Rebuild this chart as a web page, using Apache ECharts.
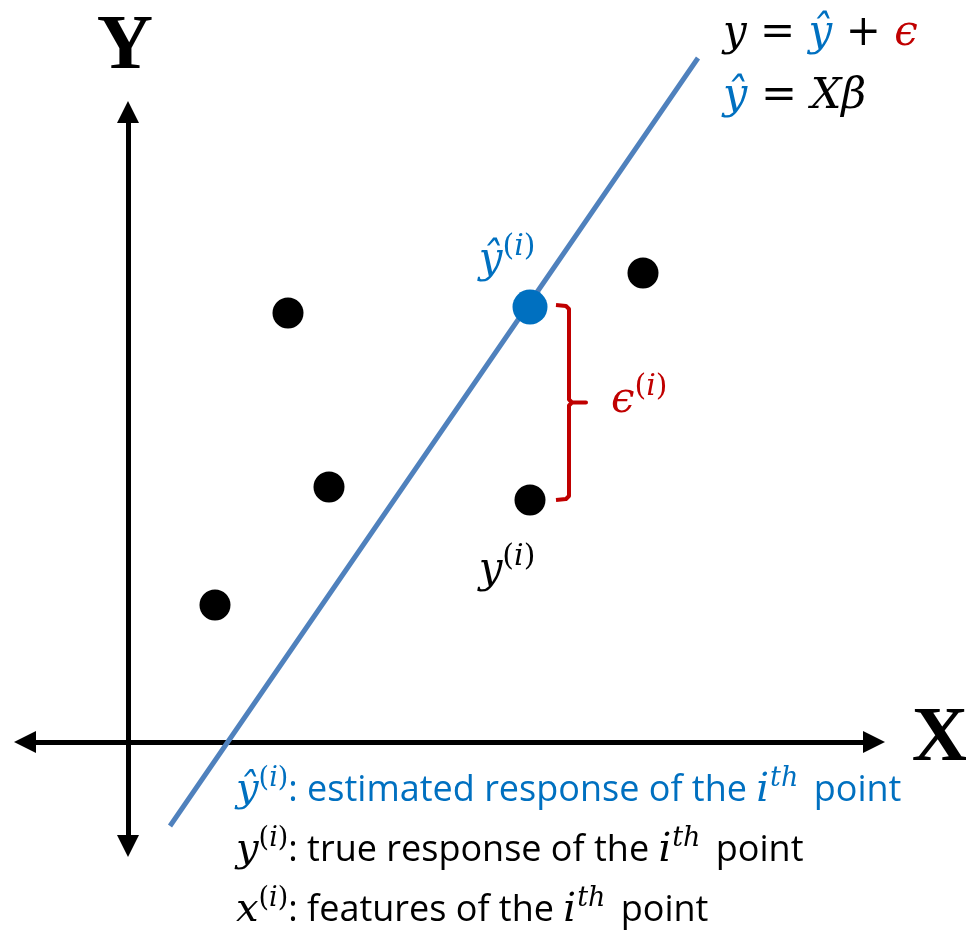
<!DOCTYPE html>
<html>
<head>
<meta charset="utf-8">
<script src="https://cdn.jsdelivr.net/npm/echarts@6/dist/echarts.min.js"></script>
<style>
  html, body { margin: 0; padding: 0; background: #ffffff; }
  #chart { width: 966px; height: 932px; }
</style>
</head>
<body>
<div id="chart"></div>
<script>
// Observed sample points (feature x, response y)
const pointX = [0.87, 1.60, 2.01, 4.02, 5.15];
const pointY = [1.37, 4.29, 2.55, 2.42, 4.69];

// Two ends of the fitted regression line
const lineX = [0.42, 5.70];
const lineY = [-0.84, 6.84];

// Highlighted observation i: its feature, fitted response and true response
const obsX = 4.02;
const fittedY = 4.35;
const trueY = 2.42;

// Visible extent of the two axes (origin sits where they cross)
const axisRangeX = [-1.03, 7.46];
const axisRangeY = [-1.04, 6.30];

const BLUE = '#0070C0';
const RED = '#C00000';
const LINE_BLUE = '#4F81BD';
const MATH_FONT = '"DejaVu Serif", "Liberation Serif", serif';
const SANS_FONT = '"Open Sans", "Noto Sans", sans-serif';

const chart = echarts.init(document.getElementById('chart'));

// Rich-text styles: m = math italic, r = upright math, s/p = superscript (italic/upright),
// q = superscript followed by a gap, t = body text
function rich(color, size, supSize, lh, textSize) {
  function st(o) { o.color = o.color || color; o.fill = o.color; return o; }
  return {
    m: st({ fontFamily: MATH_FONT, fontStyle: 'italic', fontSize: size, lineHeight: lh, verticalAlign: 'bottom' }),
    r: st({ fontFamily: MATH_FONT, fontSize: size, lineHeight: lh, verticalAlign: 'bottom' }),
    s: st({ fontFamily: MATH_FONT, fontStyle: 'italic', fontSize: supSize, lineHeight: supSize + 2, verticalAlign: 'top' }),
    q: st({ fontFamily: MATH_FONT, fontStyle: 'italic', fontSize: supSize, lineHeight: supSize + 2, verticalAlign: 'top', padding: [0, 6, 0, 1] }),
    p: st({ fontFamily: MATH_FONT, fontSize: supSize, lineHeight: supSize + 2, verticalAlign: 'top' }),
    t: st({ fontFamily: SANS_FONT, fontSize: textSize || 31, lineHeight: lh, verticalAlign: 'bottom', padding: [0, 0, 2, 0] }),
    mb: st({ fontFamily: MATH_FONT, fontStyle: 'italic', fontSize: size, color: BLUE, lineHeight: lh, verticalAlign: 'bottom' }),
    mr: st({ fontFamily: MATH_FONT, fontStyle: 'italic', fontSize: size, color: RED, lineHeight: lh, verticalAlign: 'bottom' })
  };
}

const scatterData = pointX.map(function (x, i) { return [x, pointY[i]]; });

function pointLabel(color, formatter, position, offset) {
  return {
    show: true, position: position, offset: offset, formatter: formatter,
    color: color, opacity: 1, rich: rich(color, 42, 30, 50)
  };
}

chart.setOption({
  animation: false,
  grid: { left: 25, right: 92, top: 112, bottom: 86 },
  xAxis: {
    type: 'value', min: axisRangeX[0], max: axisRangeX[1],
    axisLine: { onZero: true, symbol: ['triangle', 'triangle'], symbolSize: [22, 22],
      lineStyle: { color: '#000', width: 5 } },
    axisTick: { show: false }, axisLabel: { show: false }, splitLine: { show: false }
  },
  yAxis: {
    type: 'value', min: axisRangeY[0], max: axisRangeY[1],
    axisLine: { show: true, onZero: true, symbol: ['triangle', 'triangle'], symbolSize: [22, 22],
      lineStyle: { color: '#000', width: 5 } },
    axisTick: { show: false }, axisLabel: { show: false }, splitLine: { show: false }
  },
  series: [
    {
      type: 'line', clip: false, symbol: 'none', z: 3,
      data: [[lineX[0], lineY[0]], [lineX[1], lineY[1]]],
      lineStyle: { color: LINE_BLUE, width: 5 }
    },
    {
      type: 'scatter', z: 4, symbolSize: 31,
      itemStyle: { color: '#000', opacity: 1 },
      data: scatterData
    },
    {
      type: 'scatter', z: 5, symbolSize: 35,
      itemStyle: { color: BLUE, opacity: 1 },
      data: [[obsX, fittedY]],
      label: pointLabel(BLUE, '{m|ŷ}{p|(}{s|i}{p|)}', 'left', [28, -50])
    },
    {
      // label for the true response of observation i
      type: 'scatter', z: 5, symbolSize: 0,
      itemStyle: { color: '#000', opacity: 1 },
      data: [[obsX, trueY]],
      label: pointLabel('#000', '{m|y}{p|(}{s|i}{p|)}', 'bottom', [-23, 37])
    },
    {
      // label for the residual, placed halfway between fitted and true response
      type: 'scatter', z: 5, symbolSize: 0,
      itemStyle: { color: RED, opacity: 1 },
      data: [[obsX, (fittedY + trueY) / 2]],
      label: pointLabel(RED, '{m|ϵ}{p|(}{s|i}{p|)}', 'right', [76, -6])
    },
    {
      // residual bracket between fitted and true response
      type: 'custom', z: 4, clip: false,
      data: [[obsX, fittedY, trueY]],
      renderItem: function (params, api) {
        const top = api.coord([api.value(0), api.value(1)]);
        const bot = api.coord([api.value(0), api.value(2)]);
        const xs = top[0] + 26, xv = top[0] + 39;
        const yt = top[1] - 2, yb = bot[1];
        const ym = (yt + yb) / 2;
        return {
          type: 'polyline',
          shape: { points: [[xs, yt], [xv - 3, yt + 1], [xv, yt + 4], [xv, ym - 3], [xv + 3, ym], [xv + 17, ym], [xv + 3, ym], [xv, ym + 3], [xv, yb - 4], [xv - 3, yb - 1], [xs, yb]] },
          style: { stroke: RED, lineWidth: 4, fill: null, lineJoin: 'round' }
        };
      }
    }
  ],
  graphic: [
    { type: 'text', x: 125, y: 48, style: { text: 'Y', font: 'bold 78px "Liberation Serif", serif', fill: '#000', textAlign: 'center', textVerticalAlign: 'middle' } },
    { type: 'text', x: 940, y: 740, style: { text: 'X', font: 'bold 78px "Liberation Serif", serif', fill: '#000', textAlign: 'center', textVerticalAlign: 'middle' } },
    { type: 'text', x: 723, y: 5, style: { text: '{m|y}{r| = }{mb|ŷ}{r| + }{mr|ϵ}', rich: rich('#000', 42, 30, 50) } },
    { type: 'text', x: 723, y: 68, style: { text: '{mb|ŷ}{r| = }{m|Xβ}', rich: rich('#000', 43, 30, 50) } },
    { type: 'text', x: 236, y: 765, style: { text: '{m|ŷ}{p|(}{s|i}{p|)}{t|: estimated response of the }{m|i}{q|th}{t| point}', rich: rich(BLUE, 40, 27, 46, 36) } },
    { type: 'text', x: 236, y: 825, style: { text: '{m|y}{p|(}{s|i}{p|)}{t|: true response of the }{m|i}{q|th}{t| point}', rich: rich('#000', 40, 27, 46, 36) } },
    { type: 'text', x: 236, y: 885, style: { text: '{m|x}{p|(}{s|i}{p|)}{t|: features of the }{m|i}{q|th}{t| point}', rich: rich('#000', 40, 27, 46, 36) } }
  ]
});
</script>
</body>
</html>
